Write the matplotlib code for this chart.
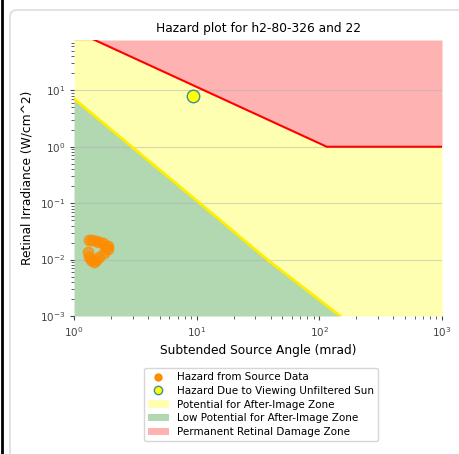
import numpy as np
import matplotlib
matplotlib.use('Agg')
import matplotlib.pyplot as plt
from matplotlib.patches import FancyBboxPatch, Patch
from matplotlib.lines import Line2D

# boundary lines (mrad, W/cm^2)
burn_x = [1, 115, 1000]
burn_y = [115, 1, 1]
after_x = [1, 10.6, 37.6, 148]
after_y = [7.1, 0.1, 0.01, 0.001]

# hazard from source data
src_x = [1.33, 1.51, 1.71, 1.88, 1.29, 1.33, 1.45, 1.61, 1.76, 1.90, 1.40, 1.60, 1.38, 1.52, 1.83]
src_y = [0.0221, 0.0215, 0.0193, 0.0175, 0.0137, 0.0111, 0.0091, 0.0111, 0.0133, 0.0157, 0.0220, 0.0205, 0.0100, 0.0098, 0.0165]

# sun
sun_x = [9.3]
sun_y = [7.8]

ymin, ymax = 1e-3, 78
xmin, xmax = 1, 1000

fig = plt.figure(figsize=(4.59, 4.54), dpi=100)
ax = fig.add_axes([74/459, 1-316/454, (442-74)/459, (316-40)/454])

# fills
ax.fill_between(burn_x, burn_y, ymax, color='red', alpha=0.3, linewidth=0)
bx = np.array(burn_x, float); by = np.array(burn_y, float)
ax_ = np.array(after_x + [xmax], float); ay_ = np.array(after_y + [ymin], float)
grid_x = np.unique(np.concatenate([bx, ax_]))
top = np.interp(np.log10(grid_x), np.log10(bx), np.log10(by))
bot = np.interp(np.log10(grid_x), np.log10(ax_), np.log10(ay_))
ax.fill_between(grid_x, 10**bot, 10**top, color='yellow', alpha=0.3, linewidth=0)
ax.fill_between(after_x, ymin, after_y, color='green', alpha=0.3, linewidth=0)

ax.plot(burn_x, burn_y, color='red', linewidth=1.5)
ax.plot(after_x, after_y, color='#ffee00', linewidth=2)

ax.plot(src_x, src_y, 'o', color='darkorange', markersize=7.5, alpha=0.7)
ax.plot(sun_x, sun_y, 'o', markerfacecolor='yellow', markeredgecolor='#3f8f9a', markersize=9, markeredgewidth=1)

ax.set_xscale('log')
ax.set_yscale('log')
ax.set_xlim(xmin, xmax)
ax.set_ylim(ymin, ymax)
ax.grid(axis='y', which='major', color='#b0b0b0', alpha=0.5, linewidth=0.8)
for s in ax.spines.values():
    s.set_visible(False)
ax.tick_params(which='both', colors='#444444', labelsize=7.5, length=3)
ax.tick_params(which='minor', length=2)

ax.set_title('Hazard plot for h2-80-326 and 22', fontsize=8.8)
ax.set_xlabel('Subtended Source Angle (mrad)', fontsize=8.8)
ax.set_ylabel('Retinal Irradiance (W/cm^2)', fontsize=8.8)

handles = [
    Line2D([], [], marker='o', linestyle='', color='darkorange', markersize=5),
    Line2D([], [], marker='o', linestyle='', markerfacecolor='yellow', markeredgecolor='#3f8f9a', markersize=6),
    Patch(facecolor='yellow', alpha=0.3),
    Patch(facecolor='green', alpha=0.3),
    Patch(facecolor='red', alpha=0.3),
]
labels = ['Hazard from Source Data', 'Hazard Due to Viewing Unfiltered Sun',
          'Potential for After-Image Zone', 'Low Potential for After-Image Zone',
          'Permanent Retinal Damage Zone']
fig.legend(handles, labels, loc='upper center', bbox_to_anchor=(261/459, 1-363/454),
           fontsize=7.5, frameon=True, handlelength=2, labelspacing=0.35)

# screenshot frame
fig.add_artist(Line2D([2/459, 2/459], [0, 1], color='black', linewidth=2, transform=fig.transFigure))
fig.add_artist(FancyBboxPatch((10/459, -0.05), 1.2, 1-10/454 + 0.05,
                              boxstyle='round,pad=0,rounding_size=0.015',
                              transform=fig.transFigure, facecolor='none',
                              edgecolor='#dddddd', linewidth=1.2))

fig.savefig('out.png', dpi=100)
